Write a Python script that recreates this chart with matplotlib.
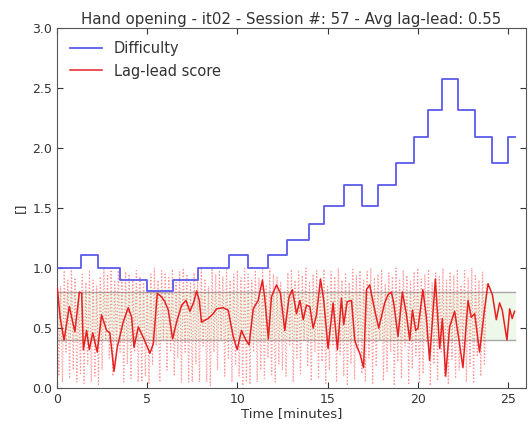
import numpy as np
import matplotlib
matplotlib.use("Agg")
import matplotlib.pyplot as plt

# Difficulty level changes (minutes) and level values
diff_time = [0.0, 1.31, 2.29, 3.49, 5.0, 6.45, 7.8, 9.53, 10.6, 11.7, 12.75, 13.96,
             14.8, 15.9, 16.9, 17.8, 18.82, 19.78, 20.57, 21.37, 22.25, 23.16, 24.1, 25.0, 25.37]
diff_level = [1.0, 1.11, 1.0, 0.9, 0.81, 0.9, 1.0, 1.11, 1.0, 1.11, 1.23, 1.37,
              1.52, 1.69, 1.52, 1.69, 1.88, 2.09, 2.32, 2.58, 2.32, 2.09, 1.88, 2.09, 2.09]

# Smoothed lag-lead score
score_time = [0.02, 0.17, 0.39, 0.68, 0.99, 1.24, 1.37, 1.46, 1.64, 1.79, 1.98, 2.23, 2.47,
              2.75, 2.93, 3.16, 3.34, 3.67, 3.95, 4.14, 4.27, 4.51, 4.82, 5.15, 5.34, 5.56,
              5.8, 5.98, 6.17, 6.41, 6.63, 6.91, 7.15, 7.37, 7.59, 7.74, 7.89, 8.01, 8.38,
              8.66, 8.85, 9.21, 9.49, 9.77, 9.99, 10.23, 10.47, 10.65, 10.88, 11.15, 11.39,
              11.52, 11.72, 11.89, 12.17, 12.39, 12.63, 12.87, 13.05, 13.28, 13.47, 13.65,
              13.83, 14.02, 14.2, 14.39, 14.61, 14.79, 15.03, 15.31, 15.55, 15.77, 15.9,
              16.09, 16.33, 16.51, 16.64, 16.79, 17.0, 17.16, 17.34, 17.56, 17.84, 18.17,
              18.36, 18.54, 18.67, 18.91, 19.15, 19.37, 19.56, 19.71, 19.89, 20.02, 20.29,
              20.48, 20.66, 20.98, 21.22, 21.37, 21.55, 21.77, 22.05, 22.29, 22.51, 22.79,
              22.97, 23.16, 23.43, 23.71, 23.9, 24.14, 24.36, 24.54, 24.69, 24.95, 25.1,
              25.24, 25.37]
score_value = [0.83, 0.59, 0.40, 0.68, 0.47, 0.80, 0.79, 0.32, 0.48, 0.32, 0.46, 0.30, 0.61,
               0.48, 0.46, 0.14, 0.34, 0.55, 0.67, 0.59, 0.34, 0.51, 0.41, 0.29, 0.37, 0.79,
               0.76, 0.72, 0.65, 0.41, 0.55, 0.69, 0.73, 0.64, 0.72, 0.81, 0.73, 0.55, 0.58,
               0.62, 0.66, 0.67, 0.65, 0.43, 0.32, 0.48, 0.40, 0.36, 0.66, 0.73, 0.90,
               0.75, 0.41, 0.76, 0.86, 0.79, 0.48, 0.76, 0.82, 0.62, 0.73, 0.57,
               0.69, 0.68, 0.50, 0.61, 0.91, 0.73, 0.33, 0.71, 0.32, 0.75, 0.53,
               0.72, 0.73, 0.40, 0.34, 0.29, 0.17, 0.82, 0.86, 0.69, 0.50, 0.71,
               0.78, 0.80, 0.71, 0.43, 0.80, 0.62, 0.40, 0.65, 0.48, 0.50, 0.82,
               0.59, 0.23, 0.91, 0.33, 0.58, 0.10, 0.51, 0.64, 0.40, 0.17, 0.73,
               0.59, 0.62, 0.30, 0.66, 0.87, 0.78, 0.57, 0.71, 0.65, 0.40, 0.66,
               0.58, 0.64]

# Raw per-sample lag-lead score (every 0.1 min)
raw_dt = 0.1
raw_value = [
    0.95, 0.10, 0.85, 0.05, 0.98, 0.30, 0.90, 0.08, 1.00, 0.15, 0.92, 0.05, 0.80, 0.12, 0.95,
    0.04, 0.88, 0.20, 0.97, 0.05, 0.90, 0.10, 0.85, 0.03, 0.93, 0.15, 0.99, 0.40, 0.95, 0.25,
    1.00, 0.10, 0.90, 0.35, 0.98, 0.30, 0.92, 0.05, 0.97, 0.20, 0.95, 0.08, 0.90, 0.30, 0.98,
    0.05, 0.93, 0.05, 0.88, 0.10, 0.85, 0.03, 0.95, 0.20, 1.00, 0.35, 0.90, 0.05, 0.98, 0.40,
    0.95, 0.15, 0.92, 0.30, 0.99, 0.10, 0.88, 0.25, 0.97, 0.05, 1.00, 0.30, 0.95, 0.05, 0.90,
    0.05, 0.96, 0.20, 0.92, 0.05, 0.99, 0.35, 0.90, 0.05, 0.85, 0.02, 1.00, 0.30, 0.95, 0.15,
    0.97, 0.40, 0.93, 0.10, 0.99, 0.25, 0.90, 0.05, 0.95, 0.20, 0.98, 0.10, 0.92, 0.02, 1.00,
    0.05, 0.95, 0.03, 0.90, 0.30, 0.97, 0.05, 0.92, 0.15, 0.99, 0.08, 0.85, 0.25, 1.00, 0.10,
    0.95, 0.05, 0.93, 0.20, 0.88, 0.15, 0.80, 0.10, 0.96, 0.35, 0.99, 0.05, 0.90, 0.25, 0.97,
    0.12, 0.94, 0.40, 1.00, 0.18, 0.89, 0.06, 0.95, 0.30, 0.98, 0.08, 0.91, 0.22, 0.99, 0.04,
    0.86, 0.15, 0.97, 0.35, 0.93, 0.05, 1.00, 0.28, 0.90, 0.10, 0.96, 0.02, 0.88, 0.20, 0.99,
    0.07, 0.94, 0.33, 0.98, 0.12, 0.90, 0.05, 0.97, 0.25, 1.00, 0.03, 0.92, 0.18, 0.95, 0.40,
    0.99, 0.06, 0.87, 0.14, 0.96, 0.30, 0.93, 0.02, 1.00, 0.22, 0.90, 0.08, 0.98, 0.35, 0.94,
    0.04, 0.89, 0.16, 0.97, 0.27, 1.00, 0.05, 0.91, 0.12, 0.95, 0.38, 0.99, 0.02, 0.88, 0.20,
    0.96, 0.06, 0.93, 0.30, 1.00, 0.10, 0.90, 0.03, 0.97, 0.24, 0.94, 0.08, 0.99, 0.15, 0.86,
    0.32, 0.98, 0.05, 0.92, 0.18, 1.00, 0.04, 0.95, 0.26, 0.90, 0.10, 0.97, 0.20, 0.88,
]
raw_time = np.arange(len(raw_value)) * raw_dt

# Target band for the score
band_low, band_high = 0.4, 0.8
t_end = 25.37

fig = plt.figure(figsize=(5.28, 4.26), dpi=100)
ax = fig.add_axes([0.108, 0.089, 0.888, 0.845])

ax.fill_between([0, t_end], band_low, band_high, color="#edf7ea", zorder=0)
ax.plot([0, t_end], [band_low, band_low], color="#aaaaaa", lw=1, zorder=1)
ax.plot([0, t_end], [band_high, band_high], color="#aaaaaa", lw=1, zorder=1)

ax.plot(raw_time, raw_value, color="#ff4444", linestyle=":", lw=0.9, alpha=0.55, zorder=2)
ax.step(diff_time, diff_level, where="post", color="#5a5aee", lw=1.3, label="Difficulty", zorder=3)
ax.plot(score_time, score_value, color="#e82020", lw=1.1, label="Lag-lead score", zorder=4)

ax.set_xlim(0, 26)
ax.set_ylim(0, 3.0)
ax.set_xticks([0, 5, 10, 15, 20, 25])
ax.set_yticks([0.0, 0.5, 1.0, 1.5, 2.0, 2.5, 3.0])
ax.set_yticklabels(["0.0", "0.5", "1.0", "1.5", "2.0", "2.5", "3.0"])
ax.tick_params(direction="in", top=True, right=True, labelsize=9, length=4, colors="#333333")
for s in ax.spines.values():
    s.set_color("#555555")

ax.set_title("Hand opening - it02 - Session #: 57 - Avg lag-lead: 0.55", fontsize=10.8, color="#333333", pad=3)
ax.set_xlabel("Time [minutes]", fontsize=9.5, color="#333333", labelpad=1)
ax.set_ylabel("[]", fontsize=9.5, color="#333333")

leg = ax.legend(loc="upper left", frameon=False, fontsize=10.5, handlelength=2.2)
for t in leg.get_texts():
    t.set_color("#333333")

fig.savefig("out.png", dpi=100)
plt.close(fig)
